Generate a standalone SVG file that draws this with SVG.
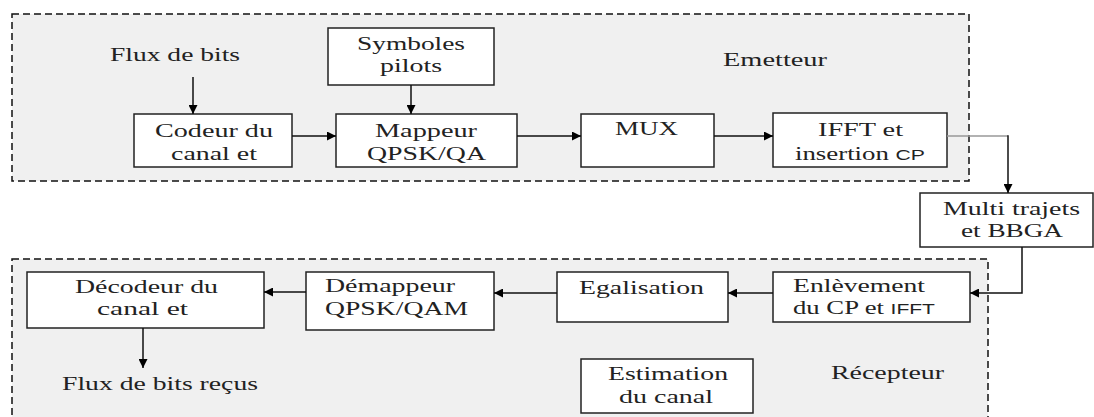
<svg xmlns="http://www.w3.org/2000/svg" width="1094" height="417" viewBox="0 0 1094 417">
<defs>
<marker id="ah" viewBox="0 0 10 10" refX="10" refY="5" markerWidth="9" markerHeight="9" markerUnits="userSpaceOnUse" orient="auto">
<path d="M0,0 L10,5 L0,10 z" fill="#000"/>
</marker>
<style>
.zone{fill:#f0f0f0;stroke:#111;stroke-width:1.5;stroke-dasharray:7,4}
.box{fill:#fff;stroke:#222;stroke-width:1.5}
.t{font-family:"Liberation Serif","Times New Roman",serif;font-size:19px;fill:#222}
.s{font-family:"Liberation Sans",Arial,sans-serif;font-size:15px}
.c{fill:none;stroke:#111;stroke-width:1.5}
.ca{fill:none;stroke:#111;stroke-width:1.5;marker-end:url(#ah)}
</style>
</defs>
<rect width="1094" height="417" fill="#fff"/>
<g id="emetteur-zone">
<rect class="zone" x="12" y="14" width="957" height="167"/>
<text class="t" x="723" y="66" textLength="104" lengthAdjust="spacingAndGlyphs">Emetteur</text>
</g>
<g id="recepteur-zone">
<rect class="zone" x="12" y="259" width="976" height="180"/>
<text class="t" x="831" y="379" textLength="113" lengthAdjust="spacingAndGlyphs">Récepteur</text>
</g>
<g id="flux-bits">
<text class="t" x="110" y="61" textLength="130" lengthAdjust="spacingAndGlyphs">Flux de bits</text>
</g>
<g id="symboles">
<rect class="box" x="328" y="28" width="166" height="57"/>
<text class="t" x="357" y="50" textLength="108" lengthAdjust="spacingAndGlyphs">Symboles</text>
<text class="t" x="380" y="72" textLength="62" lengthAdjust="spacingAndGlyphs">pilots</text>
</g>
<g id="codeur">
<rect class="box" x="134" y="114" width="158" height="53"/>
<text class="t" x="155" y="137" textLength="118" lengthAdjust="spacingAndGlyphs">Codeur du</text>
<text class="t" x="171" y="160" textLength="86" lengthAdjust="spacingAndGlyphs">canal et</text>
</g>
<g id="mappeur">
<rect class="box" x="336" y="114" width="181" height="53"/>
<text class="t" x="375" y="137" textLength="102" lengthAdjust="spacingAndGlyphs">Mappeur</text>
<text class="t" x="367" y="160" textLength="119" lengthAdjust="spacingAndGlyphs">QPSK/QA</text>
</g>
<g id="mux">
<rect class="box" x="581" y="114" width="133" height="53"/>
<text class="t" x="615" y="135" textLength="63" lengthAdjust="spacingAndGlyphs">MUX</text>
</g>
<g id="ifft">
<rect class="box" x="773" y="113" width="174" height="54"/>
<text class="t" x="818" y="136" textLength="85" lengthAdjust="spacingAndGlyphs">IFFT et</text>
<text class="t" x="795" y="160" textLength="130" lengthAdjust="spacingAndGlyphs">insertion <tspan class="s">CP</tspan></text>
</g>
<g id="multi">
<rect class="box" x="920" y="193" width="173" height="54"/>
<text class="t" x="943" y="215" textLength="137" lengthAdjust="spacingAndGlyphs">Multi trajets</text>
<text class="t" x="961" y="237" textLength="102" lengthAdjust="spacingAndGlyphs">et BBGA</text>
</g>
<g id="enlevement">
<rect class="box" x="773" y="272" width="197" height="50"/>
<text class="t" x="793" y="292" textLength="132" lengthAdjust="spacingAndGlyphs">Enlèvement</text>
<text class="t" x="793" y="314" textLength="142" lengthAdjust="spacingAndGlyphs">du CP et <tspan class="s">IFFT</tspan></text>
</g>
<g id="egalisation">
<rect class="box" x="557" y="272" width="171" height="50"/>
<text class="t" x="579" y="294" textLength="125" lengthAdjust="spacingAndGlyphs">Egalisation</text>
</g>
<g id="demappeur">
<rect class="box" x="306" y="272" width="188" height="58"/>
<text class="t" x="325" y="292" textLength="130" lengthAdjust="spacingAndGlyphs">Démappeur</text>
<text class="t" x="325" y="315" textLength="143" lengthAdjust="spacingAndGlyphs">QPSK/QAM</text>
</g>
<g id="decodeur">
<rect class="box" x="27" y="272" width="237" height="56"/>
<text class="t" x="75" y="293" textLength="143" lengthAdjust="spacingAndGlyphs">Décodeur du</text>
<text class="t" x="97" y="315" textLength="91" lengthAdjust="spacingAndGlyphs">canal et</text>
</g>
<g id="flux-recus">
<text class="t" x="62" y="390" textLength="196" lengthAdjust="spacingAndGlyphs">Flux de bits reçus</text>
</g>
<g id="estimation">
<rect class="box" x="581" y="359" width="172" height="54"/>
<text class="t" x="608" y="380" textLength="120" lengthAdjust="spacingAndGlyphs">Estimation</text>
<text class="t" x="619" y="403" textLength="94" lengthAdjust="spacingAndGlyphs">du canal</text>
</g>
<g id="connectors">
<path class="ca" d="M193,77 V114"/>
<path class="ca" d="M411,85 V114"/>
<path class="ca" d="M292,136 H336"/>
<path class="ca" d="M517,136 H581"/>
<path class="ca" d="M714,136 H773"/>
<path d="M947,136 H1008" fill="none" stroke="#999" stroke-width="1.5"/>
<path class="ca" d="M1008,135.3 V193"/>
<path class="ca" d="M1022,247 V293 H970"/>
<path class="ca" d="M773,293 H728"/>
<path class="ca" d="M557,293 H494"/>
<path class="ca" d="M306,292 H264"/>
<path class="ca" d="M143,328 V368"/>
</g>
</svg>
